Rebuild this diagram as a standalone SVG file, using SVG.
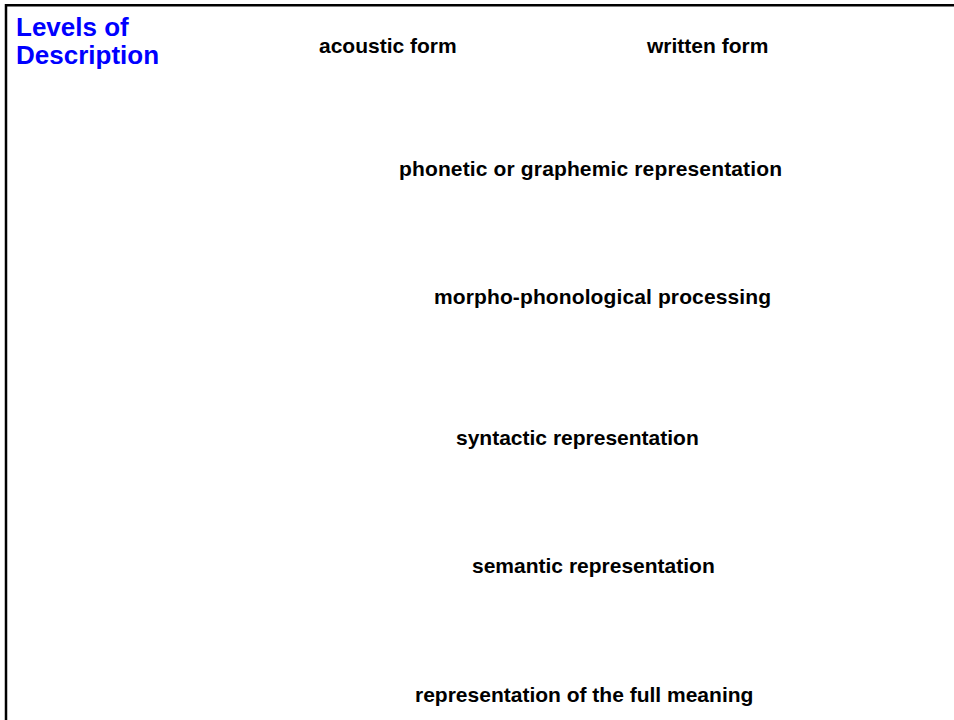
<svg xmlns="http://www.w3.org/2000/svg" width="954" height="720" viewBox="0 0 954 720">
  <style>
    .title { font-family: "Liberation Sans", Arial, Helvetica, sans-serif; font-weight: bold; font-size: 26px; fill: #0000ff; }
    .level { font-family: "Liberation Sans", Arial, Helvetica, sans-serif; font-weight: bold; font-size: 21px; fill: #000000; }
    .frame { fill: none; stroke: #000000; stroke-width: 2.5; }
  </style>
  <rect width="954" height="720" fill="#ffffff"/>
  <!-- open frame: left and top edges -->
  <path class="frame" d="M6,720 V5.2 H954"/>
  <g id="title">
    <text class="title" x="16" y="36">Levels of</text>
    <text class="title" x="16" y="64">Description</text>
  </g>
  <g id="acoustic-form"><text class="level" x="319" y="53">acoustic form</text></g>
  <g id="written-form"><text class="level" x="647" y="53">written form</text></g>
  <g id="phonetic-graphemic"><text class="level" x="399" y="176" textLength="383">phonetic or graphemic representation</text></g>
  <g id="morpho-phonological"><text class="level" x="434" y="304" textLength="337">morpho-phonological processing</text></g>
  <g id="syntactic"><text class="level" x="456" y="445">syntactic representation</text></g>
  <g id="semantic"><text class="level" x="472" y="573">semantic representation</text></g>
  <g id="full-meaning"><text class="level" x="415" y="702">representation of the full meaning</text></g>
  <g id="connectors"></g>
</svg>
